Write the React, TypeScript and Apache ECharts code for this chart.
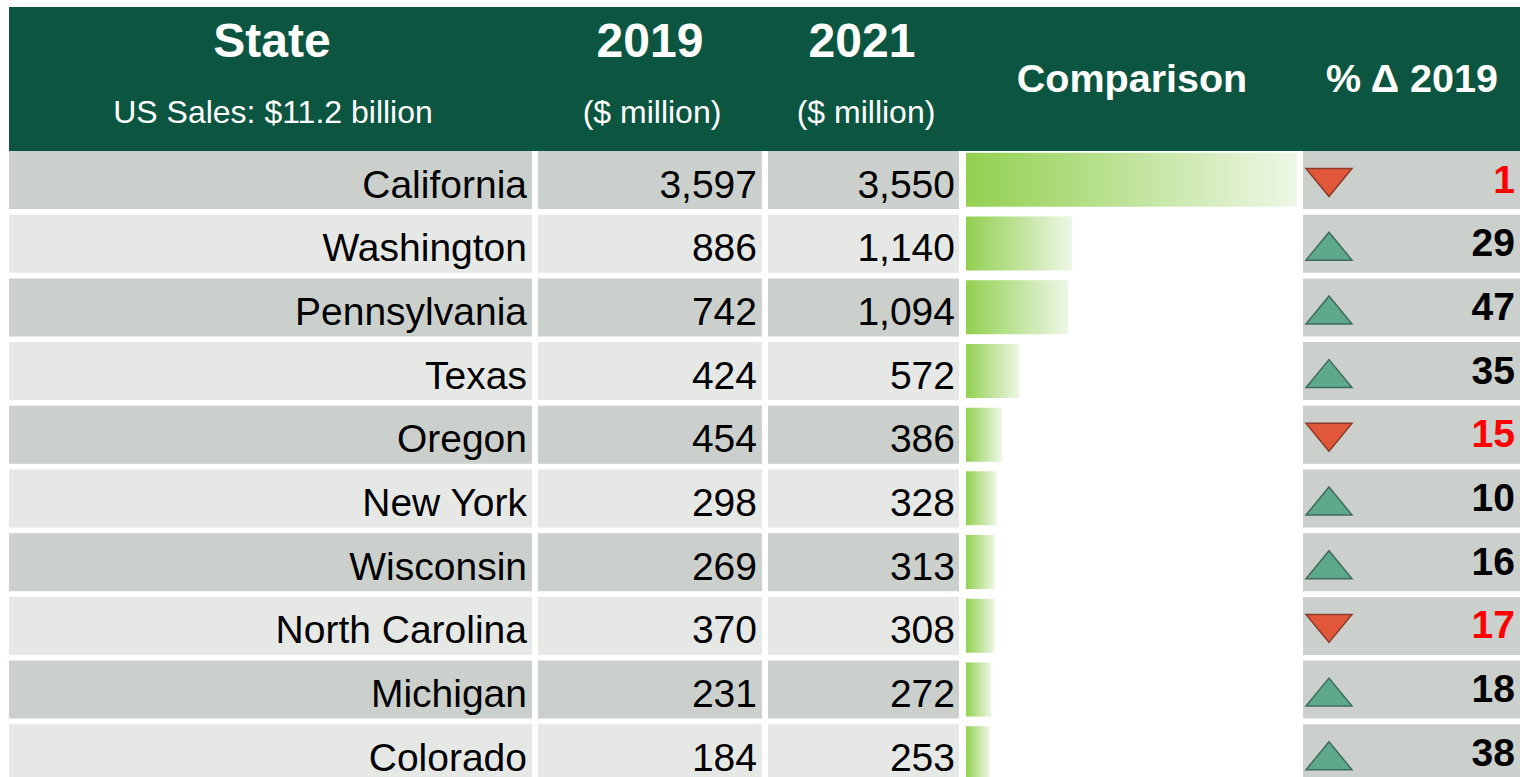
import React, { useEffect, useRef } from "react";
import * as echarts from "echarts";

const states = [
  "California",
  "Washington",
  "Pennsylvania",
  "Texas",
  "Oregon",
  "New York",
  "Wisconsin",
  "North Carolina",
  "Michigan",
  "Colorado",
];
const sales2019 = [3597, 886, 742, 424, 454, 298, 269, 370, 231, 184];
const sales2021 = [3550, 1140, 1094, 572, 386, 328, 313, 308, 272, 253];
const pctChange2019 = [-1, 29, 47, 35, -15, 10, 16, -17, 18, 38];
const headerTitles = ["State", "2019", "2021", "Comparison", "% Δ 2019"];
const headerSubtitles = ["US Sales: $11.2 billion", "($ million)", "($ million)"];

const FONT = '"Liberation Sans", Arial, sans-serif';
const HEADER_BG = "#0c5641";
const ROW_DARK = "#cbd0cc";
const ROW_LIGHT = "#e6e8e6";
const PCT_BG = "#cbd0cc";

const fmt = (v: number) => v.toLocaleString("en-US");

export default function App() {
  const ref = useRef<HTMLDivElement>(null);

  useEffect(() => {
    if (!ref.current) return;
    const chart = echarts.init(ref.current, undefined, { renderer: "svg" });

    const GRID_TOP = 151;
    const GRID_H = 637; // grid extends past the bottom edge (last row is cut off)
    const ROW_H = 58;

    const cols = [
      { x: 9, w: 523, textRight: 527 },
      { x: 538, w: 224, textRight: 757 },
      { x: 768, w: 191, textRight: 955 },
    ];
    const pctCol = { x: 1303, w: 217, textRight: 1515, triX: 1329 };

    const renderCells = (params: any, api: any) => {
      const i = params.dataIndex;
      const c = api.coord([0, i]);
      const band = api.size([0, 1])[1];
      const top = c[1] - band / 2;
      const mid = top + ROW_H / 2;
      const bg = i % 2 === 0 ? ROW_DARK : ROW_LIGHT;
      const children: any[] = [];
      cols.forEach((col) => {
        children.push({
          type: "rect",
          shape: { x: col.x, y: top, width: col.w, height: ROW_H },
          style: { fill: bg },
        });
      });
      children.push({
        type: "rect",
        shape: { x: pctCol.x, y: top, width: pctCol.w, height: ROW_H },
        style: { fill: PCT_BG },
      });
      const texts = [states[i], fmt(sales2019[i]), fmt(sales2021[i])];
      texts.forEach((t, k) => {
        children.push({
          type: "text",
          style: {
            text: t,
            x: cols[k].textRight,
            y: mid + 4,
            align: "right",
            verticalAlign: "middle",
            fontSize: 39,
            fontFamily: FONT,
            fill: "#000",
          },
        });
      });
      const pct = pctChange2019[i];
      const up = pct >= 0;
      const cy = mid + 2.5;
      const tx = pctCol.triX;
      children.push({
        type: "polygon",
        shape: {
          points: up
            ? [
                [tx - 23, cy + 14],
                [tx + 23, cy + 14],
                [tx, cy - 14],
              ]
            : [
                [tx - 23, cy - 14],
                [tx + 23, cy - 14],
                [tx, cy + 14],
              ],
        },
        style: {
          fill: up ? "#5ea88b" : "#e0573a",
          stroke: up ? "#3f6d5b" : "#8c3c2c",
          lineWidth: 1.5,
        },
      });
      children.push({
        type: "text",
        style: {
          text: String(Math.abs(pct)),
          x: pctCol.textRight,
          y: mid - 1,
          align: "right",
          verticalAlign: "middle",
          fontSize: 39,
          fontWeight: "bold",
          fontFamily: FONT,
          fill: up ? "#000" : "#ff0000",
        },
      });
      return { type: "group", children };
    };

    const headerText = (text: string, x: number, y: number, size: number, bold: boolean) => ({
      type: "text",
      x,
      y,
      style: {
        text,
        align: "center",
        verticalAlign: "middle",
        fontSize: size,
        fontWeight: bold ? "bold" : "normal",
        fontFamily: FONT,
        fill: "#fff",
      },
    });

    chart.setOption({
      animation: false,
      backgroundColor: "#fff",
      grid: [
        {
          left: 0,
          width: 1520,
          top: GRID_TOP,
          height: GRID_H,
          containLabel: false,
          outerBoundsMode: "none",
        },
        {
          left: 966,
          width: 331,
          top: GRID_TOP - 3,
          height: GRID_H,
          containLabel: false,
          outerBoundsMode: "none",
        },
      ],
      xAxis: [
        { type: "value", gridIndex: 0, min: 0, max: 1, show: false },
        { type: "value", gridIndex: 1, min: 0, max: "dataMax", show: false },
      ],
      yAxis: [
        { type: "category", gridIndex: 0, data: states, inverse: true, show: false },
        { type: "category", gridIndex: 1, data: states, inverse: true, show: false },
      ],
      graphic: [
        {
          type: "rect",
          shape: { x: 9, y: 7, width: 1511, height: 144 },
          style: { fill: HEADER_BG },
          z: 0,
        },
        headerText(headerTitles[0], 272, 40, 48, true),
        headerText(headerSubtitles[0], 273, 112, 32, false),
        headerText(headerTitles[1], 650, 40, 48, true),
        headerText(headerSubtitles[1], 652, 112, 32, false),
        headerText(headerTitles[2], 862, 40, 48, true),
        headerText(headerSubtitles[2], 866, 112, 32, false),
        headerText(headerTitles[3], 1132, 78, 39.5, true),
        headerText(headerTitles[4], 1412, 78, 39.5, true),
      ],
      series: [
        {
          type: "custom",
          xAxisIndex: 0,
          yAxisIndex: 0,
          renderItem: renderCells,
          data: states.map((_, i) => [0, i]),
          encode: { x: 0, y: 1 },
          clip: false,
          silent: true,
        },
        {
          type: "bar",
          xAxisIndex: 1,
          yAxisIndex: 1,
          data: sales2021,
          barWidth: 54,
          silent: true,
          itemStyle: {
            color: new echarts.graphic.LinearGradient(0, 0, 1, 0, [
              { offset: 0, color: "#92d050" },
              { offset: 1, color: "#eef7e6" },
            ]),
          },
        },
      ],
    });

    return () => chart.dispose();
  }, []);

  return (
    <div
      ref={ref}
      style={{ position: "fixed", left: 0, top: 0, width: 1520, height: 777 }}
    />
  );
}
